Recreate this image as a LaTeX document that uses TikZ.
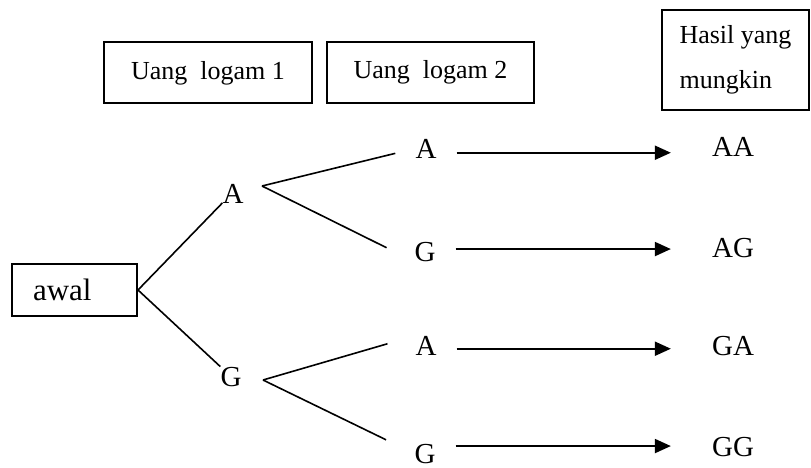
\documentclass[tikz,border=0pt]{standalone}
\usepackage{fontspec}
\setmainfont{Liberation Serif}
\usepackage{tikz}
\usetikzlibrary{arrows.meta, positioning, calc}

\begin{document}
\begin{tikzpicture}[x=1pt, y=-1pt,
        box/.style={draw, line width=2pt, inner sep=0pt, font=\fontsize{26}{31}\selectfont},
        coin/.style={anchor=base, inner sep=0pt, font=\fontsize{29}{34}\selectfont},
        branch/.style={line width=1.6pt},
        result/.style={line width=2pt, -{Triangle[length=16pt, width=14pt]}, shorten <=20pt, shorten >=41pt}]
        \useasboundingbox (0,0) rectangle (811,468);

        % kolom judul
        \node[box, minimum width=208, minimum height=61] (coinone) at (208,73) {Uang\ \ logam 1};
        \node[box, minimum width=207, minimum height=61] (cointwo) at (430.5,72.5) {Uang\ \ logam 2};
        \node[box, minimum width=147, minimum height=100, align=left,
              font=\fontsize{26}{45}\selectfont] (hasil) at (735.5,60) {Hasil yang\\mungkin};

        % awal
        \node[box, minimum height=52, inner xsep=21pt, text width=83pt, align=left,
              font=\fontsize{31}{37}\selectfont] (awal) at (74.5,290) {awal};

        % uang logam 1
        \node[coin] (a1) at (233,203) {A};
        \node[coin] (g1) at (231,386) {G};
        \draw[branch] (awal.east) -- (a1.base west);
        \draw[branch] (awal.east) -- (g1.north west);

        % uang logam 2
        \node[coin] (a2) at (426,158) {A};
        \node[coin] (g2) at (425,261) {G};
        \node[coin] (a3) at (426,355) {A};
        \node[coin] (g4) at (425,463) {G};
        \coordinate (forkA) at (262,186);
        \coordinate (forkG) at (263,380);
        \draw[branch, shorten >=20.6pt] (forkA) -- (a2.west);
        \draw[branch, shorten >=31pt] (forkA) -- (g2.south west);
        \draw[branch, shorten >=29pt] (forkG) -- (a3.north west);
        \draw[branch, shorten >=31.4pt] (forkG) -- (g4.west);

        % hasil yang mungkin
        \node[coin] (aa) at (733,157) {AA};
        \node[coin] (ag) at (733,257) {AG};
        \node[coin] (ga) at (733,355) {GA};
        \node[coin] (gg) at (733,456) {GG};
        \draw[result] ([yshift=-4.3pt]a2.east) -- ([yshift=-4.3pt]a2.east -| aa.west);
        \draw[result] ([yshift=2.5pt]g2.east) -- ([yshift=2.5pt]g2.east -| ag.west);
        \draw[result] ([yshift=-3.3pt]a3.east) -- ([yshift=-3.3pt]a3.east -| ga.west);
        \draw[result] ([yshift=7.5pt]g4.east) -- ([yshift=7.5pt]g4.east -| gg.west);
\end{tikzpicture}
\end{document}
